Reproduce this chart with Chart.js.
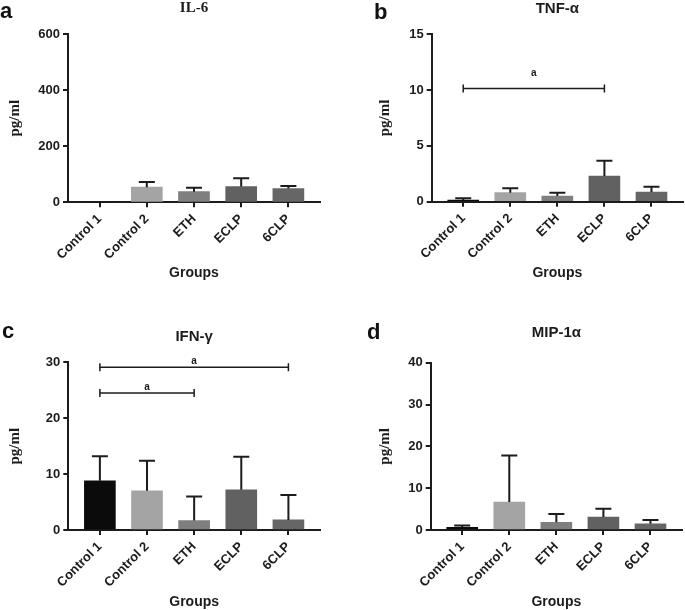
<!DOCTYPE html>
<html>
<head>
<meta charset="UTF-8" />
<title>Cytokine levels by group</title>
<script src="https://cdn.jsdelivr.net/npm/chart.js@4"></script>
<style>
  body { margin: 0; background: #fff; }
  #wrap { position: relative; width: 685px; height: 610px; overflow: hidden; }
  canvas { position: absolute; }
  .tag { position: absolute; font: bold 22px "Liberation Sans", Arial, sans-serif; line-height: 22px; color: #111; }
</style>
</head>
<body>
<div id="wrap">
  <canvas id="panelA" width="340" height="300" style="left:0;top:0"></canvas>
  <canvas id="panelB" width="345" height="300" style="left:340px;top:0"></canvas>
  <canvas id="panelC" width="340" height="310" style="left:0;top:300px"></canvas>
  <canvas id="panelD" width="345" height="310" style="left:340px;top:300px"></canvas>
  <div class="tag" style="left:0;top:0">a</div>
  <div class="tag" style="left:374px;top:1px">b</div>
  <div class="tag" style="left:2px;top:320px">c</div>
  <div class="tag" style="left:367px;top:321px">d</div>
</div>

<script>
  // --- data (mean and SD, pg/ml) ---
  const groups = ['Control 1', 'Control 2', 'ETH', 'ECLP', '6CLP'];

  const il6Mean = [0, 54, 38, 56, 49];
  const il6Sd   = [0, 18, 14, 30, 9];

  const tnfMean = [0.15, 0.81, 0.51, 2.3, 0.87];
  const tnfSd   = [0.15, 0.39, 0.3, 1.37, 0.47];

  const ifnMean = [8.8, 7.0, 1.7, 7.2, 1.8];
  const ifnSd   = [4.4, 5.4, 4.3, 5.9, 4.45];

  const mipMean = [0.65, 6.7, 1.85, 3.1, 1.5];
  const mipSd   = [0.4, 11.1, 2.0, 2.0, 0.9];

  // significance brackets: [from group, to group, height (pg/ml), label]
  const tnfBrackets = [[0, 3, 10.15, 'a']];
  const ifnBrackets = [[0, 4, 29.1, 'a'], [0, 2, 24.5, 'a']];

  const barColors = ['#0b0b0b', '#a4a4a4', '#7f7f7f', '#616161', '#666666'];
  const ink = '#1c1c1c';
  const SANS = '"Liberation Sans", Arial, sans-serif';
  const SERIF = '"Liberation Serif", "Times New Roman", serif';

  // upper-only error bars with a cap
  const errorBars = {
    id: 'errorBars',
    afterDatasetsDraw(chart, args, opts) {
      const y = chart.scales.y;
      const ctx = chart.ctx;
      const meta = chart.getDatasetMeta(0);
      const data = chart.data.datasets[0].data;
      ctx.save();
      ctx.strokeStyle = ink;
      ctx.lineWidth = 2;
      meta.data.forEach((bar, i) => {
        const sd = opts.sd[i];
        if (!sd) return;
        const top = y.getPixelForValue(data[i].y + sd);
        ctx.beginPath();
        ctx.moveTo(bar.x, bar.y);
        ctx.lineTo(bar.x, top);
        ctx.moveTo(bar.x - 8, top);
        ctx.lineTo(bar.x + 8, top);
        ctx.stroke();
      });
      ctx.restore();
    }
  };

  const brackets = {
    id: 'brackets',
    afterDatasetsDraw(chart, args, opts) {
      const { x, y } = chart.scales;
      const ctx = chart.ctx;
      ctx.save();
      ctx.strokeStyle = ink;
      ctx.fillStyle = ink;
      ctx.lineWidth = 1.5;
      ctx.font = 'bold 10px ' + SANS;
      ctx.textAlign = 'center';
      ctx.textBaseline = 'middle';
      (opts.items || []).forEach(([from, to, val, label]) => {
        const x0 = x.getPixelForValue(from);
        const x1 = x.getPixelForValue(to);
        const yy = y.getPixelForValue(val);
        ctx.beginPath();
        ctx.moveTo(x0, yy); ctx.lineTo(x1, yy);
        ctx.moveTo(x0, yy - 4); ctx.lineTo(x0, yy + 4);
        ctx.moveTo(x1, yy - 4); ctx.lineTo(x1, yy + 4);
        ctx.stroke();
        ctx.fillText(label, (x0 + x1) / 2, yy - opts.gap);
      });
      ctx.restore();
    }
  };

  function makePanel(id, p) {
    new Chart(document.getElementById(id), {
      type: 'bar',
      data: {
        datasets: [{
          data: p.mean.map((v, i) => ({ x: i, y: v })),
          backgroundColor: barColors,
          barThickness: 31,
          borderWidth: 0
        }]
      },
      options: {
        responsive: false,
        animation: false,
        layout: { padding: { left: 0, top: 0, right: p.padRight, bottom: p.padBottom } },
        plugins: {
          legend: { display: false },
          tooltip: { enabled: false },
          title: {
            display: true,
            text: p.title,
            fullSize: false,
            color: ink,
            font: { family: p.titleFont, size: 15, weight: 'bold', lineHeight: 1 },
            padding: { top: p.titleTop, bottom: p.titleBottom }
          },
          errorBars: { sd: p.sd },
          brackets: { items: p.brackets, gap: p.gap }
        },
        scales: {
          x: {
            type: 'linear',
            offset: false,
            min: -0.67,
            max: 4.67,
            afterBuildTicks: s => { s.ticks = groups.map((g, i) => ({ value: i })); },
            afterFit: s => { s.height = p.axisH; },
            grid: { offset: false, drawOnChartArea: false, drawTicks: true, tickLength: 5, lineWidth: 2, color: ink },
            border: { display: true, width: 2, color: ink },
            ticks: {
              autoSkip: false,
              maxRotation: 45,
              minRotation: 45,
              padding: 4,
              color: ink,
              font: { family: SANS, size: 13, weight: 'bold' },
              callback: v => groups[v]
            },
            title: {
              display: true,
              text: 'Groups',
              color: ink,
              font: { family: SANS, size: 14, weight: 'bold', lineHeight: 1 },
              padding: { top: 0, bottom: 0 }
            }
          },
          y: {
            min: 0,
            max: p.max,
            afterFit: s => { s.width = p.axisW; },
            grid: { drawOnChartArea: false, drawTicks: true, tickLength: 5, lineWidth: 2, color: ink },
            border: { display: true, width: 2, color: ink },
            ticks: {
              stepSize: p.step,
              padding: 3,
              color: ink,
              font: { family: SANS, size: 13, weight: 'bold' }
            },
            title: {
              display: true,
              text: 'pg/ml',
              color: ink,
              font: { family: SERIF, size: 15, weight: 'bold', lineHeight: 1 },
              padding: { top: p.yTitlePad, bottom: 0 }
            }
          }
        }
      },
      plugins: [errorBars, brackets]
    });
  }

  makePanel('panelA', {
    title: 'IL-6', titleFont: SERIF, mean: il6Mean, sd: il6Sd, max: 600, step: 200,
    brackets: [], gap: 0,
    axisW: 68, yTitlePad: 7.5, padRight: 20, padBottom: 19.4, axisH: 78.3, titleTop: 1, titleBottom: 18
  });
  makePanel('panelB', {
    title: 'TNF-α', titleFont: SANS, mean: tnfMean, sd: tnfSd, max: 15, step: 5,
    brackets: tnfBrackets, gap: 15,
    axisW: 91.7, yTitlePad: 37.5, padRight: 2, padBottom: 19.4, axisH: 78.9, titleTop: 1, titleBottom: 18.3
  });
  makePanel('panelC', {
    title: 'IFN-γ', titleFont: SANS, mean: ifnMean, sd: ifnSd, max: 30, step: 10,
    brackets: ifnBrackets, gap: 6,
    axisW: 68.3, yTitlePad: 7.5, padRight: 20, padBottom: 1.2, axisH: 78.8, titleTop: 29, titleBottom: 18.3
  });
  makePanel('panelD', {
    title: 'MIP-1α', titleFont: SANS, mean: mipMean, sd: mipSd, max: 40, step: 10,
    brackets: [], gap: 0,
    axisW: 90.7, yTitlePad: 37.2, padRight: 3, padBottom: 1.2, axisH: 78.8, titleTop: 25.3, titleBottom: 22.4
  });
</script>
</body>
</html>
